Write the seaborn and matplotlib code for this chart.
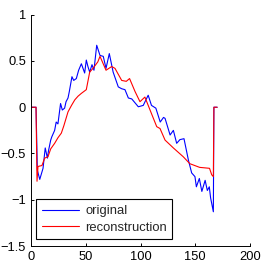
import numpy as np
import pandas as pd
import matplotlib
matplotlib.use("Agg")
import matplotlib.pyplot as plt
import seaborn as sns

# --- DATA ---
orig_x = [0, 4.6, 5.8, 8, 10, 11, 13, 15, 16, 18, 19, 21.6, 23, 24.6, 27, 28.6, 30.7,
          32, 33.8, 35, 37.4, 39, 41.4, 43.5, 46, 47.5, 49, 50.5, 52, 53.6, 55.7, 57.5,
          60, 63, 66, 68.5, 71.5, 75, 79.7, 82.8, 85.8, 88.9, 92, 98, 102.5, 107, 110,
          114, 118, 121, 122.4, 127, 130, 133, 136, 139.7, 143.7, 146.7, 149.7, 151,
          153.7, 156, 159, 161, 162.8, 164, 166.5, 167, 170]
orig_y = [0, 0, -0.68, -0.78, -0.70, -0.66, -0.44, -0.55, -0.47, -0.355, -0.32, -0.25,
          -0.16, -0.18, 0.04, -0.03, -0.01, 0.06, 0.10, 0.17, 0.33, 0.29, 0.31, 0.40,
          0.47, 0.42, 0.37, 0.51, 0.44, 0.38, 0.46, 0.40, 0.67, 0.56, 0.55, 0.42, 0.58,
          0.38, 0.22, 0.20, 0.19, 0.10, 0.09, 0.005, 0.02, 0.13, 0.02, -0.01, -0.16,
          -0.11, -0.12, -0.30, -0.25, -0.39, -0.35, -0.34, -0.57, -0.71, -0.75, -0.86,
          -0.77, -0.91, -0.79, -0.90, -0.86, -0.98, -1.13, 0, 0]

recon_x = [0, 4.6, 5.5, 6.4, 10, 12.5, 15.5, 18, 21.6, 24.6, 27.7, 30, 33.8, 37, 40, 43,
           46, 50.5, 53.6, 56.6, 61, 63, 68.5, 73.7, 76.7, 82.8, 87, 90, 95, 99.5, 104,
           108.7, 114.8, 117.8, 122.4, 130, 139, 145, 154, 163, 165, 166.5, 167, 170]
recon_y = [0, 0, -0.80, -0.64, -0.63, -0.55, -0.535, -0.45, -0.39, -0.33, -0.28, -0.20,
           -0.05, 0.02, 0.08, 0.12, 0.15, 0.19, 0.38, 0.42, 0.49, 0.55, 0.40, 0.44, 0.42,
           0.29, 0.28, 0.31, 0.17, 0.06, 0.11, -0.03, -0.21, -0.23, -0.355, -0.44,
           -0.535, -0.61, -0.65, -0.66, -0.73, -0.75, 0, 0]

series_names = ["original", "reconstruction"]
x_ticks = [0, 50, 100, 150, 200]
y_ticks = [-1.5, -1, -0.5, 0, 0.5, 1]
y_tick_labels = ["\u22121.5", "\u22121", "\u22120.5", "0", "0.5", "1"]

df = pd.concat([
    pd.DataFrame({"x": orig_x, "y": orig_y, "series": series_names[0]}),
    pd.DataFrame({"x": recon_x, "y": recon_y, "series": series_names[1]}),
], ignore_index=True)

# --- PLOT ---
sns.set_style("ticks")
plt.rcParams['font.family'] = ['Liberation Sans', 'DejaVu Sans']

fig = plt.figure(figsize=(2.66, 2.63), dpi=100)
ax = fig.add_axes([0.1165, 0.0646, 0.8235, 0.8794])

sns.lineplot(data=df, x="x", y="y", hue="series", palette=["#0000ff", "#ff0000"],
             sort=False, estimator=None, linewidth=0.8, ax=ax)

ax.set_xlim(0, 200)
ax.set_ylim(-1.5, 1)
ax.set_xticks(x_ticks)
ax.set_xticklabels([str(t) for t in x_ticks])
ax.set_yticks(y_ticks)
ax.set_yticklabels(y_tick_labels)
ax.set_xlabel("")
ax.set_ylabel("")
ax.tick_params(direction='in', length=2.5, width=0.7, labelsize=9.3, pad=3.5, colors='black')
sns.despine(ax=ax)
for s in ["left", "bottom"]:
    ax.spines[s].set_linewidth(0.7)
    ax.spines[s].set_color("black")

leg = ax.legend(loc='lower left', bbox_to_anchor=(0.023, 0.029), borderaxespad=0,
                fontsize=9.4, handlelength=2.9, handletextpad=0.45, labelspacing=0.35,
                borderpad=0.42, fancybox=False, framealpha=1, edgecolor='black', title=None)
leg.get_frame().set_linewidth(0.8)

fig.savefig("out.png", dpi=100)
